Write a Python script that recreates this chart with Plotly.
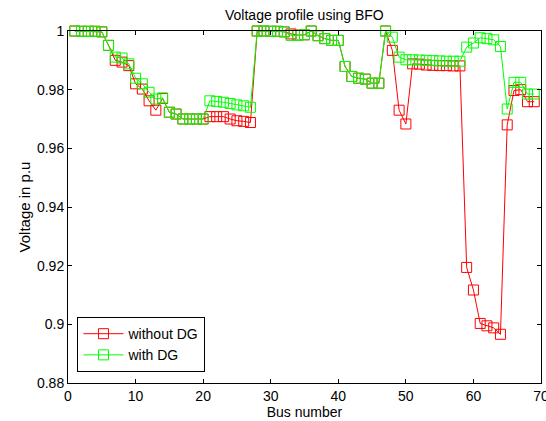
import plotly.graph_objects as go

buses = list(range(1, 70))

without_dg = [
    1.0, 0.9999, 0.9999, 0.9999, 0.9997, 0.9951, 0.9900, 0.9894, 0.9882, 0.9820,
    0.9802, 0.9762, 0.9730, 0.9770, 0.9723, 0.9717, 0.9700, 0.9700, 0.9700, 0.9700,
    0.9708, 0.9708, 0.9708, 0.9700, 0.9694, 0.9692, 0.9688, 1.0, 1.0, 0.9999,
    0.9999, 0.9997, 0.9990, 0.9986, 0.9987, 1.0, 0.9984, 0.9974, 0.9968, 0.9968,
    0.9879, 0.9845, 0.9839, 0.9836, 0.9822, 0.9822, 1.0, 0.9934, 0.9730, 0.9683,
    0.9888, 0.9887, 0.9884, 0.9883, 0.9882, 0.9882, 0.9881, 0.9881, 0.9194, 0.9117,
    0.9003, 0.8995, 0.8988, 0.8966, 0.9680, 0.9797, 0.9800, 0.9759, 0.9759,
]

with_dg = [
    1.0, 0.9999, 0.9999, 0.9999, 0.9997, 0.9951, 0.9911, 0.9908, 0.9888, 0.9839,
    0.9820, 0.9791, 0.9768, 0.9772, 0.9723, 0.9717, 0.9700, 0.9700, 0.9700, 0.9700,
    0.9762, 0.9760, 0.9757, 0.9753, 0.9748, 0.9745, 0.9740, 1.0, 1.0, 0.9999,
    0.9999, 0.9997, 0.9985, 0.9985, 0.9987, 1.0, 0.9984, 0.9974, 0.9968, 0.9968,
    0.9879, 0.9845, 0.9839, 0.9836, 0.9822, 0.9822, 1.0, 0.9979, 0.9911, 0.9902,
    0.9902, 0.9901, 0.9900, 0.9899, 0.9898, 0.9897, 0.9897, 0.9897, 0.9945, 0.9959,
    0.9977, 0.9974, 0.9970, 0.9947, 0.9734, 0.9825, 0.9825, 0.9785, 0.9785,
]

x_ticks = [0, 10, 20, 30, 40, 50, 60, 70]
y_ticks = [0.88, 0.9, 0.92, 0.94, 0.96, 0.98, 1.0]
y_tick_text = ["0.88", "0.9", "0.92", "0.94", "0.96", "0.98", "1"]

FONT = "Liberation Sans, Arial, sans-serif"

fig = go.Figure()
fig.add_trace(go.Scatter(
    x=buses, y=without_dg, name="without DG", mode="lines+markers",
    line=dict(color="rgb(255,0,0)", width=1),
    marker=dict(symbol="square-open", size=10, color="rgb(255,0,0)", line=dict(width=1)),
    cliponaxis=False,
))
fig.add_trace(go.Scatter(
    x=buses, y=with_dg, name="with DG", mode="lines+markers",
    line=dict(color="rgb(0,255,0)", width=1),
    marker=dict(symbol="square-open", size=10, color="rgb(0,255,0)", line=dict(width=1)),
    cliponaxis=False,
))

axis_common = dict(
    showgrid=False, zeroline=False, showline=True, linecolor="black", linewidth=1,
    mirror="ticks", ticks="inside", ticklen=4, tickcolor="black", automargin=False,
    tickfont=dict(family=FONT, size=14, color="black"),
)

fig.update_layout(
    width=546, height=421,
    margin=dict(l=68, r=5, t=31, b=38, autoexpand=False),
    paper_bgcolor="white", plot_bgcolor="white",
    title=dict(text="Voltage profile using BFO", x=0.5575, xanchor="center",
               y=0.964, yanchor="middle", automargin=False,
               font=dict(family=FONT, size=14, color="black")),
    xaxis=dict(range=[0, 70], tickvals=x_ticks, ticklabeloverflow="allow",
               title=dict(text="Bus number", standoff=0,
                          font=dict(family=FONT, size=14, color="black")),
               **axis_common),
    yaxis=dict(range=[0.88, 1.0], tickvals=y_ticks, ticktext=y_tick_text,
               title=dict(text="Voltage in p.u", standoff=2,
                          font=dict(family=FONT, size=15, color="black")),
               **axis_common),
    legend=dict(x=0.02, y=0.031, xanchor="left", yanchor="bottom",
                bordercolor="black", borderwidth=1, bgcolor="white",
                font=dict(family=FONT, size=14, color="black"),
                itemwidth=40, tracegroupgap=0),
    showlegend=True,
)

fig.write_html("out.html")
